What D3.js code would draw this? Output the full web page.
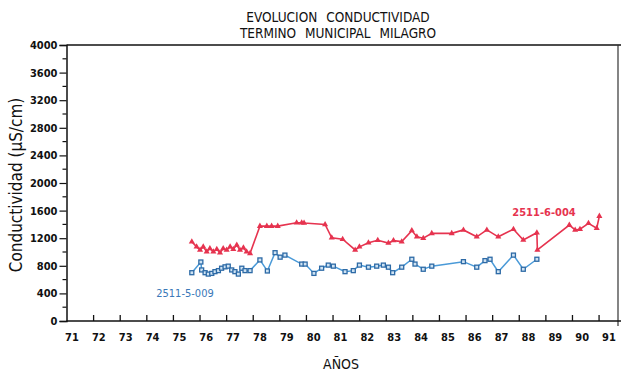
<!DOCTYPE html>
<html>
<head>
<meta charset="utf-8">
<style>
body { margin: 0; background: #fff; }
text { font-family: 'Liberation Sans Narrow', 'DejaVu Sans Condensed', 'Liberation Sans', sans-serif; fill: #111; }
.axis line, .axis path { stroke: #111; }
</style>
</head>
<body>
<script src="https://cdn.jsdelivr.net/npm/d3@7/dist/d3.min.js"></script>
<script>

// series 2511-6-004 (red, triangles)
var redYears = [75.71, 75.89, 76.02, 76.14, 76.27, 76.39, 76.52, 76.65, 76.77, 76.89, 77.02, 77.15, 77.27, 77.40, 77.52, 77.65, 77.77, 77.90,
  78.27, 78.53, 78.71, 78.94, 79.65, 79.84, 79.93, 80.72, 80.97, 81.38, 81.85, 82.01, 82.35, 82.70, 83.10, 83.29, 83.60, 83.98,
  84.17, 84.41, 84.73, 85.48, 85.92, 86.42, 86.80, 87.23, 87.80, 88.17, 88.68, 88.70, 89.90, 90.12, 90.30, 90.62, 90.93, 91.03];
var redValues = [1150, 1075, 1030, 1075, 1005, 1050, 1005, 1040, 990, 1050, 1030, 1075, 1040, 1100, 1030, 1060, 1005, 980,
  1375, 1375, 1375, 1375, 1425, 1425, 1420, 1400, 1205, 1185, 1030, 1075, 1135, 1170, 1130, 1165, 1150, 1310,
  1220, 1200, 1270, 1270, 1320, 1220, 1320, 1220, 1330, 1175, 1280, 1030, 1390, 1320, 1330, 1415, 1345, 1520];

// series 2511-5-009 (blue, squares)
var blueYears = [75.71, 76.05, 76.08, 76.21, 76.33, 76.46, 76.58, 76.71, 76.83, 76.96, 77.08, 77.21, 77.33, 77.46, 77.59, 77.71, 77.90,
  78.27, 78.55, 78.84, 79.03, 79.21, 79.84, 79.97, 80.30, 80.59, 80.84, 81.03, 81.47, 81.78, 82.01, 82.35, 82.66, 82.91, 83.10,
  83.26, 83.60, 83.98, 84.10, 84.41, 84.73, 85.92, 86.42, 86.73, 86.92, 87.23, 87.80, 88.17, 88.68];
var blueValues = [700, 855, 740, 700, 680, 690, 715, 730, 765, 785, 795, 740, 715, 680, 765, 730, 730,
  885, 725, 990, 925, 955, 825, 825, 690, 765, 810, 795, 715, 730, 810, 780, 795, 810, 780,
  700, 780, 895, 825, 750, 795, 860, 780, 875, 895, 715, 955, 750, 895];

var yearTicks = d3.range(72, 92);
var yearLabels = d3.range(71, 92);
var yMajor = d3.range(0, 4001, 400);
var yMinor = d3.range(200, 4000, 400);

var width = 621, height = 375;

var svg = d3.select("body").append("svg")
    .attr("width", width)
    .attr("height", height);

var x = d3.scaleLinear().domain([71, 91.73]).range([66.5, 618]);
// labels were lettered slightly right of the ticks
var xLabel = d3.scaleLinear().domain([71, 91]).range([72, 609]);
var y = d3.scaleLinear().domain([0, 4000]).range([321, 45]);

// title
svg.append("text")
    .attr("x", 338).attr("y", 22)
    .attr("text-anchor", "middle")
    .style("font-size", "13.5px")
    .style("word-spacing", "5px")
    .text("EVOLUCION CONDUCTIVIDAD");
svg.append("text")
    .attr("x", 338).attr("y", 38)
    .attr("text-anchor", "middle")
    .style("font-size", "13.5px")
    .style("word-spacing", "5px")
    .text("TERMINO MUNICIPAL MILAGRO");

// frame: top and right
svg.append("line")
    .attr("x1", x(71)).attr("x2", width)
    .attr("y1", y(4000)).attr("y2", y(4000))
    .style("stroke", "#111").style("stroke-width", 1.5);
svg.append("line")
    .attr("x1", 618).attr("x2", 618)
    .attr("y1", y(4000)).attr("y2", y(0) + 5)
    .style("stroke", "#333").style("stroke-width", 1.2);

// x axis
var xAxis = svg.append("g")
    .attr("class", "axis")
    .attr("transform", "translate(0," + y(0) + ")")
    .call(d3.axisTop(x).tickValues(yearTicks).tickSize(6).tickFormat(""));
xAxis.select(".domain").attr("d", "M" + x(71) + ",0H" + width).style("stroke-width", 1.5);
xAxis.selectAll(".tick line").style("stroke-width", 1.3);

svg.append("g")
    .selectAll("text")
    .data(yearLabels)
    .enter().append("text")
    .attr("x", function(d) { return xLabel(d); })
    .attr("y", 341)
    .attr("text-anchor", "middle")
    .style("font-size", "11px")
    .style("font-weight", "bold")
    .text(function(d) { return d; });

svg.append("text")
    .attr("x", 341).attr("y", 369)
    .attr("text-anchor", "middle")
    .style("font-size", "14px")
    .text("AÑOS");

// y axis
var yAxis = svg.append("g")
    .attr("class", "axis")
    .attr("transform", "translate(" + x(71) + ",0)")
    .call(d3.axisLeft(y).tickValues(yMajor).tickSize(7).tickPadding(2).tickFormat(d3.format("d")));
yAxis.select(".domain").style("stroke-width", 1.5);
yAxis.selectAll(".tick line").style("stroke-width", 1.2);
yAxis.selectAll("text")
    .style("font-size", "11px")
    .style("font-weight", "bold")
    .style("font-family", "'Liberation Sans Narrow', 'DejaVu Sans Condensed', sans-serif");

svg.append("g")
    .selectAll("line")
    .data(yMinor)
    .enter().append("line")
    .attr("x1", x(71) - 4).attr("x2", x(71))
    .attr("y1", function(d) { return y(d); })
    .attr("y2", function(d) { return y(d); })
    .style("stroke", "#111").style("stroke-width", 1.2);

svg.append("text")
    .attr("transform", "translate(22," + 185 + ") rotate(-90)")
    .attr("text-anchor", "middle")
    .style("font-size", "17px")
    .text("Conductividad  (µS/cm)");

// lines
var line = d3.line()
    .x(function(d) { return x(d[0]); })
    .y(function(d) { return y(d[1]); });

var red = d3.zip(redYears, redValues);
var blue = d3.zip(blueYears, blueValues);

svg.append("path")
    .datum(blue)
    .attr("d", line)
    .style("fill", "none")
    .style("stroke", "#4a9ad8")
    .style("stroke-width", 1.5);

svg.append("g")
    .selectAll("rect")
    .data(blue)
    .enter().append("rect")
    .attr("x", function(d) { return x(d[0]) - 2; })
    .attr("y", function(d) { return y(d[1]) - 2; })
    .attr("width", 4).attr("height", 4)
    .style("fill", "#cfe3f3")
    .style("stroke", "#2d6aa6")
    .style("stroke-width", 1.3);

svg.append("path")
    .datum(red)
    .attr("d", line)
    .style("fill", "none")
    .style("stroke", "#e6334f")
    .style("stroke-width", 1.6);

svg.append("g")
    .selectAll("path")
    .data(red)
    .enter().append("path")
    .attr("d", d3.symbol().type(d3.symbolTriangle).size(16))
    .attr("transform", function(d) { return "translate(" + x(d[0]) + "," + y(d[1]) + ")"; })
    .style("fill", "#e6334f");

// series labels
svg.append("text")
    .attr("x", 544).attr("y", 216)
    .attr("text-anchor", "middle")
    .style("font-size", "11px")
    .style("font-weight", "bold")
    .style("fill", "#e6334f")
    .text("2511-6-004");

svg.append("text")
    .attr("x", 185).attr("y", 297)
    .attr("text-anchor", "middle")
    .style("font-size", "11px")
    .style("fill", "#3a78b8")
    .text("2511-5-009");

</script>
</body>
</html>
